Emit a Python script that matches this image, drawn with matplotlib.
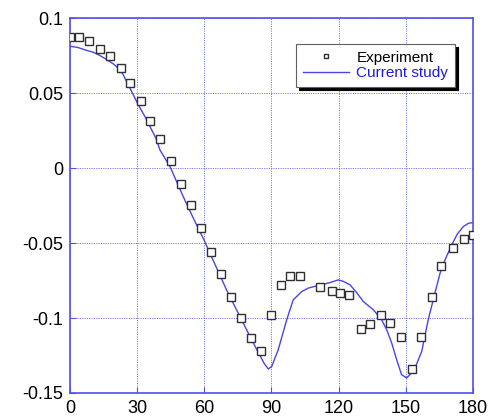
import matplotlib
matplotlib.use("Agg")
import matplotlib.pyplot as plt

# ── data ─────────────────────────────────────────────────────────────────────
exp_angle = [0.1, 4.0, 8.6, 13.3, 17.9, 22.6, 26.9, 31.6, 35.9, 40.2, 45.0,
             49.4, 54.2, 58.5, 63.1, 67.6, 72.0, 76.4, 80.8, 85.3, 89.8,
             94.4, 98.4, 102.9, 111.8, 116.9, 120.7, 124.7, 130.0, 133.9,
             139.0, 143.1, 148.0, 152.9, 156.9, 161.8, 165.8, 171.1, 176.0,
             180.0]
exp_value = [0.0877, 0.0874, 0.0846, 0.0797, 0.0746, 0.0666, 0.0566, 0.0444,
             0.0315, 0.0191, 0.0047, -0.0107, -0.0244, -0.0402, -0.0559,
             -0.0708, -0.0861, -0.0999, -0.1136, -0.1218, -0.0981, -0.0777,
             -0.0717, -0.0717, -0.0792, -0.0823, -0.0832, -0.0846, -0.1076,
             -0.1041, -0.0981, -0.1032, -0.1127, -0.1340, -0.1127, -0.0857,
             -0.0652, -0.0530, -0.0473, -0.0444]

sim_angle = [0.0, 3.5, 7.1, 10.4, 13.1, 16.0, 19.1, 21.5, 23.5, 26.5, 30.2,
             33.9, 38.4, 40.2, 44.7, 50.6, 55.1, 59.5, 65.0, 70.0, 75.9,
             81.9, 84.5, 86.8, 88.6, 90.1, 93.0, 96.8, 99.7, 103.5, 106.5,
             110.2, 116.1, 119.8, 122.0, 125.1, 128.0, 131.0, 135.5, 139.2,
             141.5, 143.7, 145.9, 148.1, 150.4, 152.3, 154.1, 157.1, 160.0,
             163.0, 165.3, 167.5, 170.5, 173.0, 175.7, 178.0, 180.0]
sim_value = [0.0812, 0.0804, 0.0786, 0.0772, 0.0752, 0.0727, 0.0697, 0.0668,
             0.0630, 0.0541, 0.0431, 0.0331, 0.0198, 0.0120, 0.0009, -0.0191,
             -0.0335, -0.0468, -0.0650, -0.0815, -0.0990, -0.1167, -0.1240,
             -0.1305, -0.1340, -0.1323, -0.1212, -0.1012, -0.0879, -0.0824,
             -0.0800, -0.0786, -0.0764, -0.0746, -0.0755, -0.0779, -0.0830,
             -0.0890, -0.0945, -0.1012, -0.1080, -0.1167, -0.1278, -0.1378,
             -0.1400, -0.1370, -0.1334, -0.1223, -0.1012, -0.0834, -0.0701,
             -0.0613, -0.0513, -0.0440, -0.0390, -0.0368, -0.0364]

x_ticks = [0, 30, 60, 90, 120, 150, 180]
y_ticks = [-0.15, -0.1, -0.05, 0, 0.05, 0.1]
y_labels = ["-0.15", "-0.1", "-0.05", "0", "0.05", "0.1"]

FRAME = "#5050E8"
LINE = "#4646E6"

plt.rcParams["font.family"] = ["Liberation Sans", "DejaVu Sans"]

fig = plt.figure(figsize=(4.96, 4.2), dpi=100)
ax = fig.add_axes([0.1411, 0.0643, 0.8125, 0.8927])

ax.plot(sim_angle, sim_value, color=LINE, lw=1.0, label="Current study", zorder=2)
ax.plot(exp_angle, exp_value, ls="none", marker="s", ms=5.2, mfc="white",
        mec="#303030", mew=1.0, label="Experiment", zorder=3)

ax.set_xlim(0, 180)
ax.set_ylim(-0.15, 0.1)
ax.set_xticks(x_ticks)
ax.set_yticks(y_ticks)
ax.set_yticklabels(y_labels)
ax.tick_params(direction="in", length=4, color=FRAME, labelsize=13, pad=5)
for s in ax.spines.values():
    s.set_color(FRAME)
    s.set_linewidth(1.2)
ax.grid(True, color=FRAME, ls=(0, (1.2, 1.2)), lw=0.7, alpha=0.75)
ax.set_axisbelow(True)

h, l = ax.get_legend_handles_labels()
leg = ax.legend(h[::-1], l[::-1], loc="upper left", bbox_to_anchor=(0.561, 0.931),
                fontsize=11, fancybox=False, shadow={"color": "black", "alpha": 1},
                framealpha=1, edgecolor="#606060", handlelength=3.0,
                borderpad=0.45, labelspacing=0.1, handletextpad=0.5,
                borderaxespad=0, markerscale=0.65)
leg.get_frame().set_linewidth(0.8)
leg.get_texts()[1].set_color("#1a1ae0")

fig.savefig("out.png", dpi=100, facecolor="white")
